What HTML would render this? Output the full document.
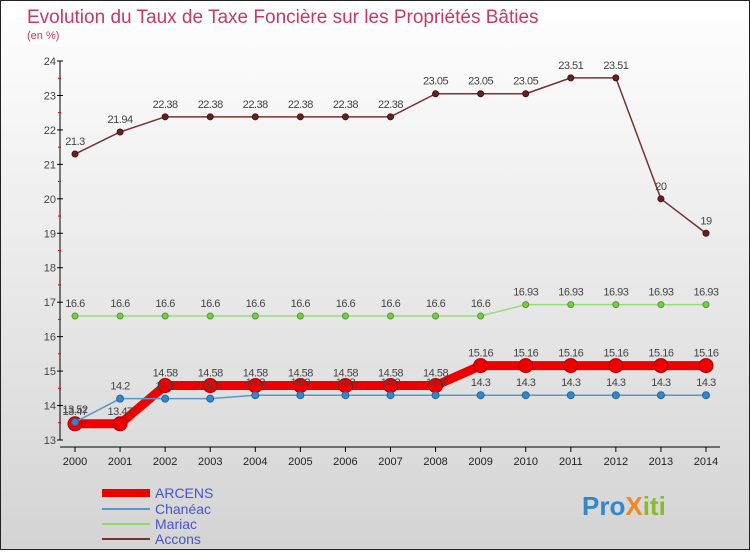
<!DOCTYPE html>
<html><head><meta charset="utf-8"><style>
body{margin:0}
#c{width:750px;height:550px;position:relative;font-family:"Liberation Sans",sans-serif;}
svg text{font-family:"Liberation Sans",sans-serif}
</style></head><body>
<div id="c">
<svg id="s" width="750" height="550" xmlns="http://www.w3.org/2000/svg">
<defs><linearGradient id="bg" x1="0" y1="0" x2="0" y2="1"><stop offset="0" stop-color="#ffffff"/><stop offset="1" stop-color="#d4d4d4"/></linearGradient></defs>
<rect x="0.5" y="0.5" width="749" height="549" fill="url(#bg)" stroke="#222"/>
<text x="27" y="23" font-size="19" fill="#c8386a">Evolution du Taux de Taxe Foncière sur les Propriétés Bâties</text>
<text x="27" y="39" font-size="11" fill="#c8386a">(en %)</text>
<g id="axes"></g><g id="series"></g>
<g>
<line x1="102" y1="493" x2="150" y2="493" stroke="#e00" stroke-width="8"/><text x="155" y="498" font-size="14" fill="#4455cc">ARCENS</text>
<line x1="102" y1="509" x2="150" y2="509" stroke="#5599cc" stroke-width="2"/><text x="155" y="514" font-size="14" fill="#4455cc">Chanéac</text>
<line x1="102" y1="524" x2="150" y2="524" stroke="#88dd66" stroke-width="2"/><text x="155" y="529" font-size="14" fill="#4455cc">Mariac</text>
<line x1="102" y1="539" x2="150" y2="539" stroke="#773333" stroke-width="2"/><text x="155" y="544" font-size="14" fill="#4455cc">Accons</text>
</g>
<text x="582" y="515" font-size="26" font-weight="bold"><tspan fill="#3388cc">Pro</tspan><tspan fill="#ee8822">X</tspan><tspan fill="#88bb33">iti</tspan></text>
</svg></div>
<script>
const years=[2000,2001,2002,2003,2004,2005,2006,2007,2008,2009,2010,2011,2012,2013,2014];
const yTicks=[13,14,15,16,17,18,19,20,21,22,23,24];
const accons=[21.3,21.94,22.38,22.38,22.38,22.38,22.38,22.38,23.05,23.05,23.05,23.51,23.51,20,19];
const mariac=[16.6,16.6,16.6,16.6,16.6,16.6,16.6,16.6,16.6,16.6,16.93,16.93,16.93,16.93,16.93];
const chaneac=[13.52,14.2,14.2,14.2,14.3,14.3,14.3,14.3,14.3,14.3,14.3,14.3,14.3,14.3,14.3];
const arcens=[13.47,13.47,14.58,14.58,14.58,14.58,14.58,14.58,14.58,15.16,15.16,15.16,15.16,15.16,15.16];
const NS="http://www.w3.org/2000/svg";
const X=i=>75+i*(706-75)/(years.length-1);
const Y=v=>440-(v-13)*(379/11);
function mk(t,a,p){const e=document.createElementNS(NS,t);for(const k in a)e.setAttribute(k,a[k]);p.appendChild(e);return e;}
const ax=document.getElementById('axes');
const yl=mk('line',{x1:60,y1:Y(24),x2:60,y2:Y(13),stroke:'#000'},ax);


mk('line',{x1:60,y1:447,x2:720,y2:447,stroke:'#000'},ax);
yTicks.forEach(v=>{
  mk('line',{x1:57,y1:Y(v),x2:63,y2:Y(v),stroke:'#000'},ax);
  if(v<24) mk('line',{x1:58,y1:Y(v+0.5),x2:61,y2:Y(v+0.5),stroke:'#e00'},ax);
  const t=mk('text',{x:56,y:Y(v)+4,'font-size':11,fill:'#444','text-anchor':'end'},ax);t.textContent=v;
  
  
});
years.forEach((y,i)=>{
  mk('line',{x1:X(i),y1:447,x2:X(i),y2:452,stroke:'#000'},ax);
  const t=mk('text',{x:X(i),y:465,'font-size':11,fill:'#222','text-anchor':'middle'},ax);t.textContent=y;
  
  
});
const sg=document.getElementById('series');
function series(name,vals,color,w,r,dot,dotStroke){
  const g=mk('g',{},sg);
  
  
  mk('polyline',{points:vals.map((v,i)=>X(i)+','+Y(v)).join(' '),fill:'none',stroke:color,'stroke-width':w,'stroke-linejoin':'round'},g);
  vals.forEach((v,i)=>{
    const c=mk('circle',{cx:X(i),cy:Y(v),r:r,fill:dot,stroke:dotStroke,'stroke-width':1},g);
    
    
    const t=mk('text',{x:X(i),y:Y(v)-9,'font-size':11,fill:'#444','text-anchor':'middle','letter-spacing':'-0.5'},g);
    t.textContent=v;
  });
}
series('accons',accons,'#773333',1.5,3,'#662222','#441111');
series('mariac',mariac,'#99dd77',1.5,3,'#77cc44','#559933');
series('arcens',arcens,'#ee0000',9,7,'#ee0000','#aa0000');
series('chaneac',chaneac,'#5599cc',1.5,3.5,'#3388cc','#226699');
</script>
</body></html>
